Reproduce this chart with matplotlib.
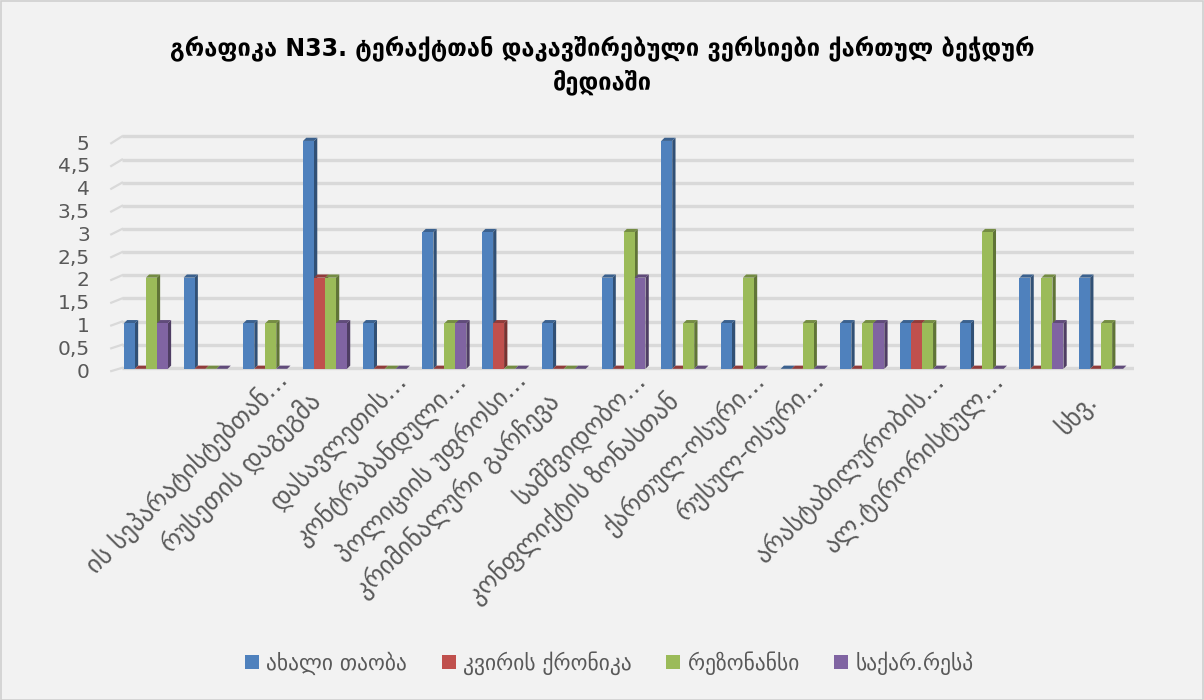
import matplotlib
matplotlib.use('Agg')
import matplotlib.pyplot as plt
from matplotlib.patches import Polygon, Rectangle
import matplotlib.colors as mcolors
import numpy as np

# ---------------- data ----------------
categories = ['', '', 'ის სეპარატისტებთან…', 'რუსეთის დაგეგმა', 'დასავლეთის…',
              'კონტრაბანდული…', 'პოლიციის უფროსი…', 'კრიმინალური გარჩევა',
              'სამშვიდობო…', 'კონფლიქტის ზონასთან', 'ქართულ-ოსური…',
              'რუსულ-ოსური…', '', 'არასტაბილურობის…', 'ალ.ტერორისტულ…', '', 'სხვ.']
series_names = ['ახალი თაობა', 'კვირის ქრონიკა', 'რეზონანსი', 'საქარ.რესპ']
akhali_taoba = [1, 2, 1, 5, 1, 3, 3, 1, 2, 5, 1, 0, 1, 1, 1, 2, 2]
kviris_kronika = [0, 0, 0, 2, 0, 0, 1, 0, 0, 0, 0, 0, 0, 1, 0, 0, 0]
rezonansi = [2, 0, 1, 2, 0, 1, 0, 0, 3, 1, 2, 1, 1, 1, 3, 2, 1]
sakar_resp = [1, 0, 0, 1, 0, 1, 0, 0, 2, 0, 0, 0, 1, 0, 0, 1, 0]
y_ticks = [0, 0.5, 1, 1.5, 2, 2.5, 3, 3.5, 4, 4.5, 5]
title = 'გრაფიკა N33. ტერაქტთან დაკავშირებული ვერსიები ქართულ ბეჭდურ\nმედიაში'

colors = ['#4F81BD', '#C0504D', '#9BBB59', '#8064A2']
series = [akhali_taoba, kviris_kronika, rezonansi, sakar_resp]

def darker(c, f=0.68):
    r, g, b = mcolors.to_rgb(c)
    return (r * f, g * f, b * f)

BG = '#F2F2F2'
W, H = 1204, 700
fig = plt.figure(figsize=(W / 100, H / 100), dpi=100, facecolor=BG)
plt.rcParams['font.family'] = ['DejaVu Sans']

# figure border
fig.patches.append(Rectangle((0.5 / W, 0.5 / H), 1 - 1.5 / W, 1 - 1.5 / H,
                             transform=fig.transFigure, fill=False,
                             edgecolor='#D0D0D0', lw=1.2))

ax = fig.add_axes([119 / W, 1 - 372 / H, 1015 / W, 242 / H])
ax.set_facecolor('none')
n = len(categories)
ax.set_xlim(-0.45, n - 0.45)
ax.set_ylim(-0.07, 5.24)
for s in ax.spines.values():
    s.set_visible(False)
ax.set_xticks([])
ax.set_yticks([])

# gridlines (back wall) with small floor diagonals
for v in y_ticks:
    yg = v + 0.02 + 0.016 * v
    ax.plot([-0.4, n - 0.45], [yg, yg], color='#D9D9D9', lw=2.4,
            zorder=0, solid_capstyle='butt')
    ax.plot([-0.58, -0.4], [v - 0.05, yg], color='#D9D9D9', lw=1.6,
            zorder=0, clip_on=False)
    lab = ('%g' % v).replace('.', ',')
    ax.text(-0.94, v - 0.07, lab, ha='right', va='center', fontsize=14.5,
            color='#595959', clip_on=False)

# bars
bw = 0.184
dx, dy = 0.055, 0.07
x = np.arange(n)
offsets = [-1.5 * bw, -0.5 * bw, 0.5 * bw, 1.5 * bw]
for gi in range(n):
    for si in range(4):
        v = series[si][gi]
        c = colors[si]
        x0 = x[gi] + offsets[si] - bw / 2
        x1 = x0 + bw
        z = 2 + si * 0.1 + gi * 0.001
        # side face
        ax.add_patch(Polygon([(x1, 0), (x1 + dx, dy), (x1 + dx, v + dy), (x1, v)],
                             closed=True, facecolor=darker(c, 0.62),
                             edgecolor='none', zorder=z))
        # top face
        ax.add_patch(Polygon([(x0, v), (x1, v), (x1 + dx, v + dy), (x0 + dx, v + dy)],
                             closed=True, facecolor=darker(c, 0.75),
                             edgecolor='none', zorder=z))
        # front face
        if v > 0:
            ax.bar(x0, v, width=bw, align='edge', color=c, edgecolor='none',
                   zorder=z + 0.01)

# category labels
for gi, lab in enumerate(categories):
    if not lab:
        continue
    if lab.endswith('…'):
        off = (17, -7)
    else:
        off = (-2, -22)
    ax.annotate(lab, xy=(x[gi], 0), xycoords=('data', 'axes fraction'),
                xytext=off, textcoords='offset points', rotation=45,
                rotation_mode='anchor', ha='right', va='baseline',
                fontsize=18, color='#595959', annotation_clip=False)

# title
fig.text(0.5, 1 - 65 / H, title, ha='center', va='center', fontsize=17,
         fontweight='bold', color='#000000', linespacing=1.45)

# legend
handles = [Rectangle((0, 0), 1, 1, facecolor=c, edgecolor='none') for c in colors]
fig.legend(handles, series_names, loc='center', bbox_to_anchor=(609 / W, 1 - 663 / H),
           ncol=4, frameon=False, fontsize=15.5, handlelength=0.65,
           handleheight=0.65, handletextpad=0.35, columnspacing=1.6,
           labelcolor='#595959')

fig.savefig('out.png', dpi=100, facecolor=BG)
